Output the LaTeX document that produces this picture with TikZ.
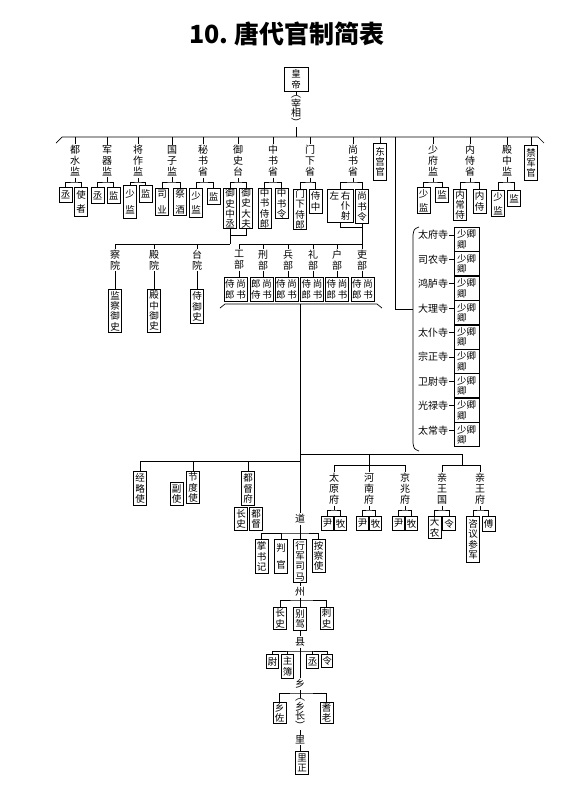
\documentclass[tikz,border=0pt]{standalone}
\usepackage{fontspec}
\newfontfamily\cjk{Noto Sans CJK SC}
\tikzset{
  ln/.style={line width=0.7pt},
  lb/.style={font=\cjk\fontsize{10}{11}\selectfont, align=center, inner sep=1pt},
  lbt/.style={font=\cjk\fontsize{10}{9.5}\selectfont, align=center, inner sep=1pt},
  bx/.style={draw, line width=0.9pt, font=\cjk\fontsize{9.5}{10.3}\selectfont, align=center,
             inner sep=0pt, minimum width=13pt, anchor=north},
}
\newcommand\dept[5]{%
  \node[lb] (#1) at (#2,161) {#3};
  \draw[ln] (#2,137) -- (#1.north);
  \coordinate (#1j) at (#2,182);
  \draw[ln] (#1.south) -- (#1j);
  \draw[ln] (#4.north) |- (#1j) -| (#5.north);
}
\begin{document}
\begin{tikzpicture}[x=1pt,y=-1pt]
\useasboundingbox (0,0) rectangle (575,788);
\node[font=\cjk\bfseries\fontsize{25}{28}\selectfont] (title) at (287,34) {10.\ 唐代官制简表};

% emperor and chancellor
\node[bx, minimum width=24, minimum height=24] (hd) at (296,67) {皇\\帝};
\node[lbt] (zx) at (296,111) {︵\\宰\\相\\︶};
\draw[ln] (hd.south) -- (zx.north);
\coordinate (top) at (296,137);
\draw[ln] (zx.south) -- (top);
\draw[ln] (56,143) -- (62,137) -- (538,137) -- (544,143);

% top departments
\node[bx,minimum height=15] (a1) at (65.5,187) {丞};
\node[bx,minimum height=29] (a2) at (81,187) {使\\[3pt]者};
\dept{d1}{75}{都\\水\\监}{a1}{a2}

\node[bx,minimum height=16] (b1) at (97.5,187) {丞};
\node[bx,minimum height=16] (b2) at (113.5,187) {监};
\dept{d2}{107}{军\\器\\监}{b1}{b2}

\node[bx,minimum height=33] (c1) at (130,185) {少\\[6pt]监};
\node[bx,minimum height=17] (c2) at (145.5,185) {监};
\dept{d3}{138}{将\\作\\监}{c1}{c2}

\node[bx,minimum height=27] (e1) at (162,188) {司\\[5pt]业};
\node[bx,minimum height=27] (e2) at (180,188) {祭\\[5pt]酒};
\dept{d4}{172}{国\\子\\监}{e1}{e2}

\node[bx,minimum height=29] (f1) at (196,188) {少\\[4pt]监};
\node[bx,minimum height=16] (f2) at (213.5,188) {监};
\dept{d5}{203}{秘\\书\\省}{f1}{f2}

\node[bx,minimum height=40] (g1) at (230,188) {御\\史\\中\\丞};
\node[bx,minimum height=40] (g2) at (246,188) {御\\史\\大\\夫};
\dept{d6}{238}{御\\史\\台}{g1}{g2}

\node[bx,minimum height=40] (h1) at (264.5,188) {中\\书\\侍\\郎};
\node[bx,minimum height=30] (h2) at (281.5,188) {中\\书\\令};
\dept{d7}{273}{中\\书\\省}{h1}{h2}

\node[bx,minimum height=40] (i1) at (300,189) {门\\下\\侍\\郎};
\node[bx,minimum height=24] (i2) at (315.5,189) {侍\\中};
\dept{d8}{310}{门\\下\\省}{i1}{i2}

\node[bx,minimum height=33,minimum width=26] (k1) at (340,189) {左\,右\\\hphantom{左}\,仆\\\hphantom{左}\,射};
\node[bx,minimum height=34] (k2) at (362,189) {尚\\书\\令};
\dept{d9}{353}{尚\\书\\省}{k1}{k2}

\node[bx,minimum height=37] (dg) at (380,143) {东\\宫\\官};
\draw[ln] (380,137) -- (dg.north);

\node[bx,minimum height=26] (l1) at (423.5,187) {少\\[4pt]监};
\node[bx,minimum height=15] (l2) at (442,187) {监};
\dept{d11}{433}{少\\府\\监}{l1}{l2}

\node[bx,minimum height=31] (m1) at (460,189) {内\\常\\侍};
\node[bx,minimum height=24] (m2) at (479.5,189) {内\\侍};
\dept{d12}{470}{内\\侍\\省}{m1}{m2}

\node[bx,minimum height=26] (n1) at (498,190) {少\\[4pt]监};
\node[bx,minimum height=16] (n2) at (514,190) {监};
\dept{d13}{507}{殿\\中\\监}{n1}{n2}

\node[bx,minimum height=35] (jj) at (531,145) {禁\\军\\官};
\draw[ln] (531,137) -- (jj.north);

% censorate courts
\coordinate (yj) at (230,244);
\draw[ln] (g2.south) |- (230,235);
\draw[ln] (g1.south) -- (yj);
\draw[ln] (115,244) -- (yj);
\node[lb] (y1) at (115,260) {察\\院};
\node[lb] (y2) at (154,260) {殿\\院};
\node[lb] (y3) at (197,260) {台\\院};
\draw[ln] (115,244) -- (y1.north);
\draw[ln] (154,244) -- (y2.north);
\draw[ln] (197,244) -- (y3.north);
\node[bx,minimum height=43] (yb1) at (115,289) {监\\察\\御\\史};
\node[bx,minimum height=43] (yb2) at (154,289) {殿\\中\\御\\史};
\node[bx,minimum height=34] (yb3) at (197,289) {侍\\御\\史};
\draw[ln] (y1) -- (yb1);
\draw[ln] (y2) -- (yb2);
\draw[ln] (y3) -- (yb3);

% six ministries
\coordinate (sj) at (362,244);
\draw[ln] (k1.south) |- (362,227);
\draw[ln] (k2.south) -- (sj);
\draw[ln] (239,244) -- (sj);
\foreach \nm/\bxx/\txt in {w1/235.5/{侍\,尚\\郎\,书}, w2/261.5/{郎\,尚\\侍\,书},
   w3/286.5/{侍\,尚\\郎\,书}, w4/312/{侍\,尚\\郎\,书},
   w5/337/{侍\,尚\\郎\,书}, w6/362.5/{侍\,尚\\郎\,书}} {
  \node[bx,minimum width=23,minimum height=24] (\nm b) at (\bxx,277) {\txt};
}
\node[lb] (w1) at (239,260) {工\\部};
\node[lb] (w2) at (263,260) {刑\\部};
\node[lb] (w3) at (288,260) {兵\\部};
\node[lb] (w4) at (313,260) {礼\\部};
\node[lb] (w5) at (337,260) {户\\部};
\node[lb] (w6) at (362,260) {吏\\部};
\foreach \nm in {w1,w2,w3,w4,w5,w6} {
  \draw[ln] (\nm.north |- sj) -- (\nm.north);
  \draw[ln] (\nm.south) -- (\nm.south |- \nm b.north);
}
\draw[ln] (220,308) -- (225,304) -- (377,304) -- (382,308);

% nine courts
\coordinate (nc) at (413,309);
\draw[ln] (395,137) -- (395,309) -- (nc);
\draw[ln] (419,227) .. controls (414,229) .. (413,235) -- (413,443) .. controls (414,449) .. (419,451);
\foreach \t/\yy [count=\i] in {太府寺/235, 司农寺/259.4, 鸿胪寺/283.8, 大理寺/308.2, 太仆寺/332.6,
   宗正寺/357, 卫尉寺/381.4, 光禄寺/405.8, 太常寺/430.2} {
  \node[lb] (nj\i) at (433,\yy) {\t};
  \node[bx,minimum width=25,minimum height=24,align=left] (nb\i) at (466.5,\yy-8) {少卿\\卿};
  \draw[ln] (nj\i.east) -- (nj\i.east -| nb\i.west);
}

% trunk and lower section
\coordinate (t0) at (300,304);
\coordinate (t1) at (300,454);
\coordinate (t2) at (300,461);
\node[lb] (dao) at (300,519) {道};
\draw[ln] (t0) -- (dao.north);

% left branch
\draw[ln] (140,461) -- (t2);
\node[bx,minimum height=34] (jl) at (140,471) {经\\略\\使};
\node[bx,minimum height=32] (jd) at (193,471) {节\\度\\使};
\node[bx,minimum height=23] (fs) at (176.5,482) {副\\使};
\node[bx,minimum height=34] (dd) at (248,471) {都\\督\\府};
\node[bx,minimum height=23] (cs) at (241,507) {长\\史};
\node[bx,minimum height=23] (ddu) at (256,507) {都\\督};
\draw[ln] (jl.north |- t2) -- (jl.north);
\draw[ln] (jd.north |- t2) -- (jd.north);
\draw[ln] (dd.north |- t2) -- (dd.north);

% right branch
\draw[ln] (t1) -- (462,454);
\draw[ln] (369,454) -- (369,465);
\draw[ln] (334,465) -- (405,465);
\draw[ln] (462,454) -- (462,465);
\draw[ln] (442,465) -- (480,465);
\foreach \nm/\cx/\txt in {fa/334/{太\\原\\府}, fb/369/{河\\南\\府}, fc/405/{京\\兆\\府}} {
  \node[lb] (\nm) at (\cx,489) {\txt};
  \draw[ln] (\cx,465) -- (\nm.north);
  \node[bx,minimum width=12.5,minimum height=14] (\nm y) at (\cx-6.5,516) {尹};
  \node[bx,minimum width=12.5,minimum height=14] (\nm m) at (\cx+6.5,516) {牧};
  \coordinate (\nm j) at (\cx,510);
  \draw[ln] (\nm.south) -- (\nm j);
  \draw[ln] (\nm y.north) |- (\nm j) -| (\nm m.north);
}
\node[lb] (qg) at (442,489) {亲\\王\\国};
\node[lb] (qf) at (480,489) {亲\\王\\府};
\draw[ln] (442,465) -- (qg.north);
\draw[ln] (480,465) -- (qf.north);
\node[bx,minimum height=22] (qg1) at (434.5,516) {大\\农};
\node[bx,minimum height=14] (qg2) at (449,516) {令};
\node[bx,minimum height=46] (qf1) at (473,516) {咨\\议\\参\\军};
\node[bx,minimum height=15] (qf2) at (488.5,516) {傅};
\coordinate (qgj) at (442,510);
\coordinate (qfj) at (480,510);
\draw[ln] (qg.south) -- (qgj);
\draw[ln] (qg1.north) |- (qgj) -| (qg2.north);
\draw[ln] (qf.south) -- (qfj);
\draw[ln] (qf1.north) |- (qfj) -| (qf2.north);

% dao
\coordinate (dj) at (300,533);
\node[bx,minimum height=34] (p1) at (261.5,539) {掌\\书\\记};
\node[bx,minimum height=34] (p2) at (281,539) {判\\[7pt]官};
\node[bx,minimum height=43] (p3) at (300,539) {行\\军\\司\\马};
\node[bx,minimum height=33] (p4) at (318.5,539) {按\\察\\使};
\draw[ln] (dao.south) -- (p3.north);
\draw[ln] (p1.north) |- (dj) -| (p4.north);
\draw[ln] (p2.north) -- (p2.north |- dj);

% zhou
\node[lb] (zhou) at (300,592) {州};
\draw[ln] (p3.south) -- (zhou.north);
\coordinate (zj) at (300,600);
\node[bx,minimum height=22] (q1) at (280,607) {长\\史};
\node[bx,minimum height=23] (q2) at (300,607) {别\\驾};
\node[bx,minimum height=22] (q3) at (326.5,607) {刺\\史};
\draw[ln] (zhou.south) -- (q2.north);
\draw[ln] (q1.north) |- (zj) -| (q3.north);

% xian
\node[lb] (xian) at (300,642) {县};
\draw[ln] (q2.south) -- (xian.north);
\coordinate (xj) at (300,651);
\node[bx,minimum height=14,minimum width=12] (r1) at (272.5,654) {尉};
\node[bx,minimum height=24,minimum width=12] (r2) at (287.5,654) {主\\簿};
\node[bx,minimum height=14,minimum width=12] (r3) at (312.5,654) {丞};
\node[bx,minimum height=13,minimum width=11] (r4) at (327,654) {令};
\draw[ln] (r1.north) |- (xj) -| (r4.north);
\draw[ln] (r2.north) -- (r2.north |- xj);
\draw[ln] (r3.north) -- (r3.north |- xj);

% xiang
\node[lb] (xiang) at (300,684) {乡};
\draw[ln] (xian.south) -- (xiang.north);
\coordinate (xgj) at (300,693);
\node[bx,minimum height=21] (s1) at (279.5,702) {乡\\佐};
\node[bx,minimum height=21] (s3) at (326.5,702) {耆\\老};
\node[lbt] (s2) at (300,714) {︵\\乡\\长\\︶};
\draw[ln] (xiang.south) -- (s2.north);
\draw[ln] (s1.north) |- (xgj) -| (s3.north);

% li
\node[lb] (li) at (300,740) {里};
\draw[ln] (s2.south) -- (li.north);
\node[bx,minimum height=23] (lz) at (302,751) {里\\正};
\draw[ln] (li.south) -- (li.south |- lz.north);
\end{tikzpicture}
\end{document}
